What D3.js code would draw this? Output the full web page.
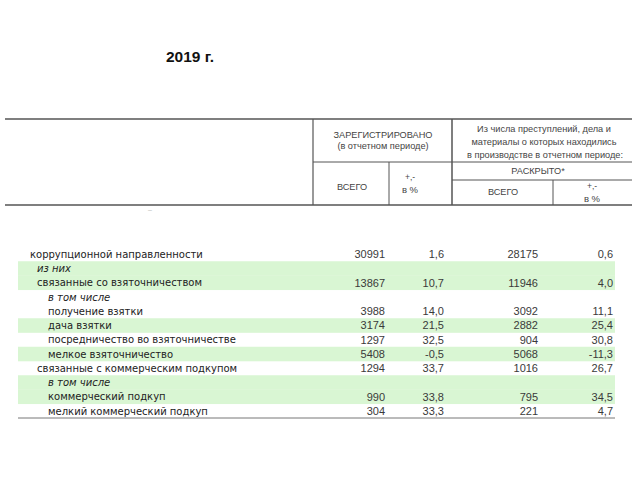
<!DOCTYPE html>
<html><head><meta charset="utf-8">
<script src="https://cdn.jsdelivr.net/npm/d3@7"></script>
<style>body{margin:0;background:#fff}svg{display:block}</style>
</head><body>
<script>
const title = "2019 г.";
const labels = ["коррупционной направленности","из них","связанные со взяточничеством","в том числе","получение взятки","дача взятки","посредничество во взяточничестве","мелкое взяточничество","связанные с коммерческим подкупом","в том числе","коммерческий подкуп","мелкий коммерческий подкуп"];
const indent = [0,1,1,2,2,2,2,2,1,2,2,2];
const italic = [false,true,false,true,false,false,false,false,false,true,false,false];
const shaded = [false,true,true,false,false,true,false,true,false,true,true,false];
const registered = [30991,null,13867,null,3988,3174,1297,5408,1294,null,990,304];
const registeredPct = ["1,6",null,"10,7",null,"14,0","21,5","32,5","-0,5","33,7",null,"33,8","33,3"];
const disclosed = [28175,null,11946,null,3092,2882,904,5068,1016,null,795,221];
const disclosedPct = ["0,6",null,"4,0",null,"11,1","25,4","30,8","-11,3","26,7",null,"34,5","4,7"];

const W = 640, H = 480;
const svg = d3.select("body").append("svg").attr("width", W).attr("height", H);

svg.append("text").attr("x", 166).attr("y", 62).text(title)
  .attr("font-family", "Liberation Sans, Arial, sans-serif").attr("font-weight", "bold")
  .attr("font-size", 15.5).attr("fill", "#111");

// header
const lc = "#555";
const hl = (x1,y1,x2,y2,w) => svg.append("line").attr("x1",x1).attr("y1",y1).attr("x2",x2).attr("y2",y2)
  .attr("stroke", lc).attr("stroke-width", w||1);
hl(5,119,632,119,1.5);
hl(5,205,632,205,1.5);
hl(313,119,313,205,1.2);
hl(452,119,452,205,1.5);
hl(313,162,452,162,1);
hl(452,162,632,162,1);
hl(452,180,632,180,1);
hl(389,162,389,205,1);
hl(553,180,553,205,1);

const hf = "Liberation Sans, Arial, sans-serif";
const ht = (x,y,s,fs) => svg.append("text").attr("x",x).attr("y",y).attr("text-anchor","middle")
  .attr("font-family",hf).attr("font-size",fs||9).attr("fill","#444").text(s);
ht(383,138,"ЗАРЕГИСТРИРОВАНО",9.2);
ht(383,149,"(в отчетном периоде)",9.2);
ht(352,190,"ВСЕГО",9.2);
ht(410,180,"+,-",8.5);
ht(410,193,"в %",9.5);
ht(544,132,"Из числа преступлений, дела и",9.2);
ht(544,145,"материалы о которых находились",9.2);
ht(545,158,"в производстве в отчетном периоде:",9.2);
ht(538,174,"РАСКРЫТО*",9.2);
ht(503,195,"ВСЕГО",9.2);
ht(592,189,"+,-",8.5);
ht(592,202,"в %",9.5);
svg.append("text").attr("x",150).attr("y",212).attr("text-anchor","middle")
  .attr("font-family",hf).attr("font-size",7).attr("fill","#bbb").text("–");

// body
const y = d3.scaleBand().domain(d3.range(labels.length)).range([247, 418]).padding(0);
const x = d3.scaleOrdinal().domain([0,1,2]).range([30,37,48]);

svg.selectAll("rect.band").data(labels.map((d,i)=>i).filter(i=>shaded[i])).join("rect")
  .attr("x", 18).attr("width", 597).attr("y", i => y(i)).attr("height", y.bandwidth()+0.3)
  .attr("fill", "#d9f6d3");

const bf = "DejaVu Sans, Verdana, sans-serif";
svg.selectAll("text.lab").data(labels).join("text")
  .attr("x", (d,i) => x(indent[i])).attr("y", (d,i) => y(i) + y.bandwidth()/2 + 3.8)
  .attr("font-family", bf).attr("font-size", 10).attr("fill", "#222")
  .attr("font-style", (d,i) => italic[i] ? "italic" : "normal").text(d => d);

const cols = [[registered,385],[registeredPct,444],[disclosed,538],[disclosedPct,613]];
cols.forEach(([arr,xr]) => {
  svg.append("g").selectAll("text").data(arr).join("text")
    .attr("x", xr).attr("y", (d,i) => y(i) + y.bandwidth()/2 + 4)
    .attr("text-anchor","end").attr("font-family", hf).attr("font-size", 11).attr("fill","#3a3a3a")
    .text(d => d == null ? "" : d);
});

svg.append("line").attr("x1",18).attr("x2",615).attr("y1",418).attr("y2",418)
  .attr("stroke","#777").attr("stroke-width",1);
</script>
</body></html>
